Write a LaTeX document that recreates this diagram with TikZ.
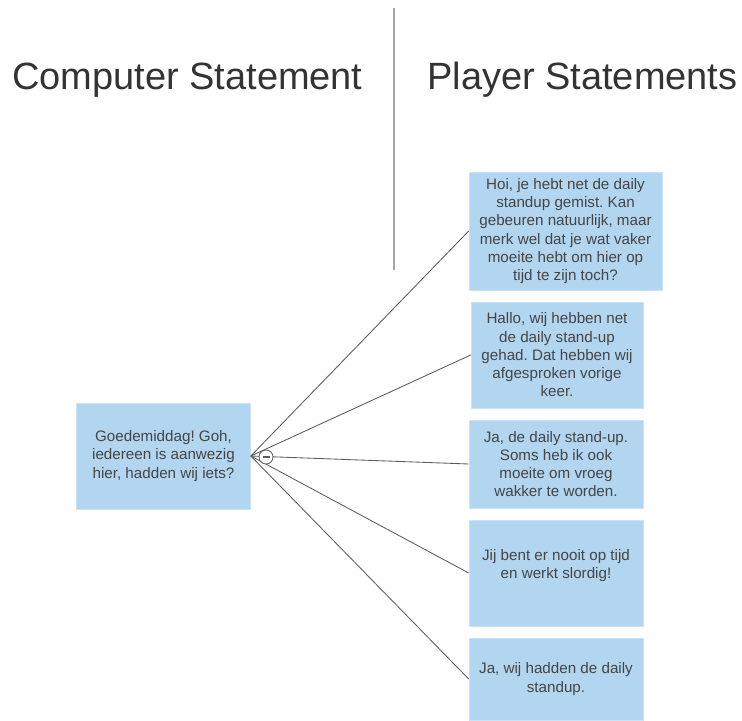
\documentclass[tikz,border=0pt]{standalone}
\usepackage{fontspec}
\setmainfont{Liberation Sans}
\usetikzlibrary{positioning,calc}
\usepackage{xcolor}
\definecolor{cardblue}{HTML}{B2D6EF}
\definecolor{cardedge}{HTML}{C9E2F4}
\definecolor{inkgray}{HTML}{454545}
\definecolor{titlegray}{HTML}{333333}
\definecolor{wiregray}{HTML}{5A5A5A}
\frenchspacing

\begin{document}
\begin{tikzpicture}[x=0.025cm, y=-0.025cm,
  card/.style={rectangle, draw=cardedge, fill=cardblue, inner sep=0pt, align=center, text=inkgray,
    font=\fontsize{10.8}{13}\selectfont},
  title/.style={anchor=base west, inner sep=0pt, text=titlegray, font=\fontsize{27}{32}\selectfont},
  wire/.style={draw=wiregray, line width=0.6pt}
]
  \useasboundingbox (0,0) rectangle (742,721);

  % column headings
  \node[title] (hcomp) at (12,90) {Computer Statement};
  \node[title] (hplay) at (427,90) {Player Statements};
  \coordinate (divtop) at (394,8);
  \coordinate (divbot) at (394,270);
  \draw[gray!70, line width=1.2pt] (divtop) -- (divbot);

  % computer statement
  \node[card, minimum width=4.35cm, minimum height=2.65cm] (comp) at (163.5,456)
    {Goedemiddag! Goh,\\iedereen is aanwezig\\hier, hadden wij iets?};

  % player statements
  \node[card, minimum width=4.825cm, minimum height=2.95cm] (ans1) at (565.5,231)
    {Hoi, je hebt net de daily\\standup gemist. Kan\\gebeuren natuurlijk, maar\\merk wel dat je wat vaker\\moeite hebt om hier op\\tijd te zijn toch?};
  \node[card, minimum width=4.3cm, minimum height=2.65cm] (ans2) at (557,355)
    {Hallo, wij hebben net\\de daily stand-up\\gehad. Dat hebben wij\\afgesproken vorige\\keer.};
  \node[card, minimum width=4.35cm, minimum height=2.2cm] (ans3) at (556,464)
    {Ja, de daily stand-up.\\Soms heb ik ook\\moeite om vroeg\\wakker te worden.};
  \node[card, minimum width=4.35cm, minimum height=2.65cm] (ans4) at (556,573)
    {Jij bent er nooit op tijd\\en werkt slordig!\\\mbox{}};
  \node[card, minimum width=4.35cm, minimum height=2.05cm] (ans5) at (556,679)
    {Ja, wij hadden de daily\\standup.};

  % branches
  \foreach \n in {ans1,ans2,ans3,ans4,ans5}
    \draw[wire] (comp.east) -- (\n.west);

  % collapse handle
  \node[circle, draw=wiregray, fill=white, line width=0.6pt, minimum size=0.35cm, inner sep=0pt] (fold) at (266,457) {};
  \draw[wiregray, line width=0.8pt] ($(fold.center)+(-3.5,0)$) -- ($(fold.center)+(3.5,0)$);
\end{tikzpicture}
\end{document}
